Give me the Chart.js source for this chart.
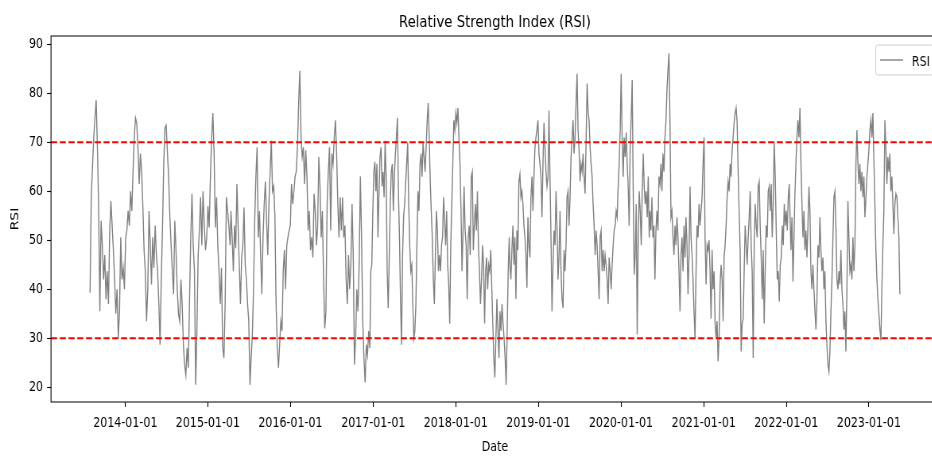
<!DOCTYPE html>
<html>
<head>
<meta charset="utf-8">
<script src="https://cdn.jsdelivr.net/npm/chart.js@4/dist/chart.umd.min.js"></script>
<style>
  html, body { margin: 0; padding: 0; background: #fff; overflow: hidden; width: 932px; height: 456px; }
  #clip { position: relative; width: 932px; height: 456px; overflow: hidden; }
  #wrap { position: absolute; left: 0; top: 0; width: 1190px; height: 456px; transform: scaleX(0.795); transform-origin: 0 0; }
</style>
</head>
<body>
<div id="clip"><div id="wrap"><canvas id="c" width="1190" height="456"></canvas></div></div>
<script>
// ---- data ----
const chartTitle = 'Relative Strength Index (RSI)';
const xLabel = 'Date';
const yLabel = 'RSI';
const seriesName = 'RSI';
const overbought = 70;
const oversold = 30;
const yTicks = [20, 30, 40, 50, 60, 70, 80, 90];
const xTickLabels = ['2014-01-01','2015-01-01','2016-01-01','2017-01-01','2018-01-01','2019-01-01','2020-01-01','2021-01-01','2022-01-01','2023-01-01'];
const xRange = ['2013-02-06T12:00:00Z', '2023-11-06T12:00:00Z'];
const yRange = [17.0, 91.7];

// the RSI trace, in consecutive date segments (values evenly spread over each segment)
const segStarts = ['2013-07-29','2015-04-13','2016-12-21','2018-08-28','2020-05-08','2022-01-17'];
const segEnds   = ['2015-04-09','2016-12-17','2018-08-25','2020-05-05','2022-01-14','2023-05-18'];
const rsi2013_2015 = [39.3,58.8,65,71,75,78.6,69,57,35.5,54,49,42,47,38,43.7,37,52,58,53,48,42,35,40,30,35.5,50.6,42,44.4,40,50.6,52,56,53,60,56,64,71,75,74,69,61.5,67.7,64,57,48,43.7,33.5,40,56,49,41,50.6,44.4,53,47,43.7,37,28.7,42,52.6,65.6,73,73.5,68,63,54.7,49,43.7,39,54,48,40,35,33.5,42,37,28.7,24.6,22.5,28,24,38,50.6,59.5,49,43.7,20.5,31.5,47,52,58.8,49,60,53,48,50.6,57,52.6,63,71,76,67.7,52.6,58.8,49,43.7,37,44.4,28,26,37,58.8,56,53,49];
const rsi2015_2016 = [56,50.6,43.7,53,48.4,61.5,53,45,37,46.5,49,56.7,45,42,37,33.5,20.5,26,30.7,40,54,63,69,50.6,56,47,39,50.6,57.4,62,54,47,58,64,70.3,60,61,55,37,28,24,28.7,33.5,31.5,43.7,48,40,49,50.6,52,53,61.5,57.4,60,63,64,69,78,84.6,71,67,69,61.5,68.4,63,52,56,48,50.6,46.5,59.5,56,49,53,67,61,50.6,56,42,32,35.5,57.4,64,69,52,67.7,65.6,71,74.5,67.7,57.4,50.6,58.8,52,58.8,50.6,53,42,37,47,40,45,57.4,47,24.6,30,40,35.5,45,63,50.6,33.5,26,21,28.7,26.6,31.5,28];
const rsi2016_2018 = [43.7,45,56,64,66,60,65.6,50.6,59.5,67,69,61,64,58.8,70.3,63,43.7,36.2,46.5,57.4,64,65.6,56,63,67.7,71,75,59.5,50.6,38,28.7,47,54.7,57.4,61.5,65.6,70,57.4,49,43.7,45,37,30,31.5,37,49,60,56,65.6,67.7,63,70,67,64,69,74.5,78,71,62,56,50.6,42,37,47,56,52,43.7,47,43.7,49,50.6,58.8,54,49,56,45,41,33,49,57.4,65.6,74.5,72.5,76,74,77,71,65.6,56,43.7,52,61,52,49,38,50.6,53,47,63,64,48,53,57.4,52,60,49,43.7,37,42,49,45,33,43.7,46.5,40,45,43.7,48,40.3,33,26,22,30,38,31.5,26,35.5,31.5,37,33,30,26,20.5,31.5,43.7,50.6];
const rsi2018_2020 = [45,42,48,53,45,50.6,38,52,48,62,63.5,58.8,60,57.4,53,50.6,47,40.3,54.7,49,46.5,58.8,63,56,63,69,71,72.5,74.5,67.7,65.6,63,54.7,65.6,74,69,64,61,63,76.5,63,50.6,35.5,45,52,49,60,53,42,47,56,43.7,38,36.2,48,43.7,49,58.8,60,53,58.8,67,71,74.5,67.7,71,78,84,72.5,68.4,62,65.6,64,67.7,63,59.5,70,82,76.5,74.5,69,65.6,63,57.4,53,47,52,49,43.7,38,50.6,52,43.7,48,43.7,47,45,42,37,46.5,43.7,40,45,49,52,53,56,54.7,61,65.6,72.5,84,71,63,71,67,72,65.6,61,53,69,75,82.7,60,43,47,57.4,30.8,50.6,60,56,49,60,67.7,61,57.4,60,54.7,63,50.6];
const rsi2020_2022 = [56,52,58.8,50.6,53,42,52,56,52,63,61.5,65.6,60,67.7,64,71,74.5,80.7,84.8,88.2,74.5,54.7,56,50.6,47,53,49,54.7,50.6,43.7,35.5,47,50.6,43.7,53,46.5,54.7,49,39,47,61,50.6,47,42,35.5,30,43.7,53,50.6,57.4,53,56,58.8,65.6,71,50.6,41,49,48,50,43.7,34,48,40,43.7,33,30,33.5,25.3,30,41,45,42,33.5,46.5,49,53,58.8,62,60,65.6,63,68.4,71,74,76,77,74,64,56,48,27.3,33,34,43.7,53,49,45,50.6,54.7,60,49,43.7,26,49,57.4,53,50.6,61,62,53,46.5,38,48,33,43.7,53,50.6,60,61,56,61.5,50.6,57.4,70,63,52,42,43.7,37.5,45,46.5,53,49,57.4,53,56,52,58.8,61.5];
const rsi2022_2023 = [56,48,54.7,41.6,50.6,59.5,65.6,71,74.5,71,77,65.6,57.4,50.6,56,48,52,46.5,53,61,56,43.7,40,45,40,35.5,31.8,38,49,46.5,54.7,48,43.7,46.5,40,43.7,33.5,28.7,24.6,23.2,27.3,35.5,42,50.6,58.8,60,53,42,40,43.7,41,48,40,37,31.8,35.5,27.3,40,58,50.6,43.7,45,42,50.6,43.7,49,65.6,72.5,65.6,61.5,65.6,60,64,58.8,63,54.7,58.8,63,65.6,68.4,72.5,74.5,71,76,66.3,57.4,48,42,38,35,31.8,29.6,40.3,49,56,74.5,69,61.5,67,64,67.7,60,63,57.4,51.3,57.4,59.5,58.8,54.7,50.6,39];
const rsiSegments = [rsi2013_2015, rsi2015_2016, rsi2016_2018, rsi2018_2020, rsi2020_2022, rsi2022_2023];

// ---- build datasets ----
const ms = s => Date.parse(s.length === 10 ? s + 'T00:00:00Z' : s);
const rsiPoints = [];
rsiSegments.forEach((vals, k) => {
  const t0 = ms(segStarts[k]), t1 = ms(segEnds[k]);
  vals.forEach((v, i) => rsiPoints.push({ x: t0 + (t1 - t0) * i / (vals.length - 1), y: v }));
});
const xMin = ms(xRange[0]), xMax = ms(xRange[1]);
const xTickValues = xTickLabels.map(ms);

const FONT = 'DejaVu Sans';
Chart.defaults.font.family = FONT;
Chart.defaults.color = '#000';

const framePlugin = {
  id: 'frame',
  afterDraw(chart) {
    const { ctx, chartArea: a } = chart;
    ctx.save();
    // left, top and bottom spines (right spine lies beyond the visible edge)
    ctx.strokeStyle = '#000';
    ctx.lineWidth = 1.1;
    ctx.beginPath();
    ctx.moveTo(a.right + 20, a.top);
    ctx.lineTo(a.left, a.top);
    ctx.lineTo(a.left, a.bottom);
    ctx.lineTo(a.right + 20, a.bottom);
    ctx.stroke();
    // title centred over the axes
    ctx.fillStyle = '#000';
    ctx.font = '16.7px "' + FONT + '"';
    ctx.textAlign = 'center';
    ctx.textBaseline = 'alphabetic';
    ctx.fillText(chartTitle, (a.left + a.right) / 2, 26.5);
    // legend (upper right, inside axes)
    const bw = 72.5, bh = 30;
    const bx = a.right - 7 - bw, by = a.top + 9;
    ctx.beginPath();
    ctx.roundRect(bx, by, bw, bh, 3);
    ctx.fillStyle = 'rgba(255,255,255,0.8)';
    ctx.fill();
    ctx.strokeStyle = '#cccccc';
    ctx.lineWidth = 1;
    ctx.stroke();
    ctx.beginPath();
    ctx.moveTo(bx + 5.5, by + 15);
    ctx.lineTo(bx + 34.5, by + 15);
    ctx.strokeStyle = 'gray';
    ctx.lineWidth = 1.4;
    ctx.stroke();
    ctx.fillStyle = '#000';
    ctx.font = '13.9px "' + FONT + '"';
    ctx.textAlign = 'left';
    ctx.fillText(seriesName, bx + 45.5, by + 20.5);
    ctx.restore();
  }
};

new Chart(document.getElementById('c'), {
  type: 'line',
  data: {
    datasets: [
      { label: seriesName, data: rsiPoints, borderColor: 'gray', borderWidth: 1.4, pointRadius: 0, tension: 0, fill: false, order: 2 },
      { label: 'overbought', data: [{ x: xMin, y: overbought }, { x: xMax, y: overbought }], borderColor: '#ff0000', borderWidth: 2, borderDash: [7.7, 3.3], pointRadius: 0, fill: false, order: 1 },
      { label: 'oversold', data: [{ x: xMin, y: oversold }, { x: xMax, y: oversold }], borderColor: '#ff0000', borderWidth: 2, borderDash: [7.7, 3.3], pointRadius: 0, fill: false, order: 1 }
    ]
  },
  options: {
    responsive: false,
    animation: false,
    devicePixelRatio: 1,
    layout: { padding: { left: 0, right: 9, top: 36, bottom: 0 } },
    plugins: {
      legend: { display: false },
      tooltip: { enabled: false },
      title: { display: false }
    },
    scales: {
      x: {
        type: 'linear', min: xMin, max: xMax,
        afterBuildTicks: s => { s.ticks = xTickValues.map(v => ({ value: v })); },
        afterFit: s => { s.height = 54; },
        ticks: { autoSkip: false, maxRotation: 0, minRotation: 0, padding: 8, color: '#000', font: { size: 13.9 },
          callback: (v) => { const i = xTickValues.indexOf(v); return i >= 0 ? xTickLabels[i] : ''; } },
        grid: { display: true, drawOnChartArea: false, drawTicks: true, tickLength: 5, color: '#000', tickColor: '#000', tickWidth: 1.1 },
        border: { display: false },
        title: { display: true, text: xLabel, color: '#000', font: { size: 13.9 }, padding: { top: 0, bottom: 0 } }
      },
      y: {
        type: 'linear', min: yRange[0], max: yRange[1],
        afterBuildTicks: s => { s.ticks = yTicks.map(v => ({ value: v })); },
        afterFit: s => { s.width = 64.15; },
        ticks: { padding: 5, color: '#000', font: { size: 13.9 } },
        grid: { display: true, drawOnChartArea: false, drawTicks: true, tickLength: 5, color: '#000', tickColor: '#000', tickWidth: 1.1 },
        border: { display: false },
        title: { display: true, text: yLabel, color: '#000', font: { size: 13.9 }, padding: { top: 11, bottom: 0 } }
      }
    }
  },
  plugins: [framePlugin]
});
</script>
</body>
</html>
